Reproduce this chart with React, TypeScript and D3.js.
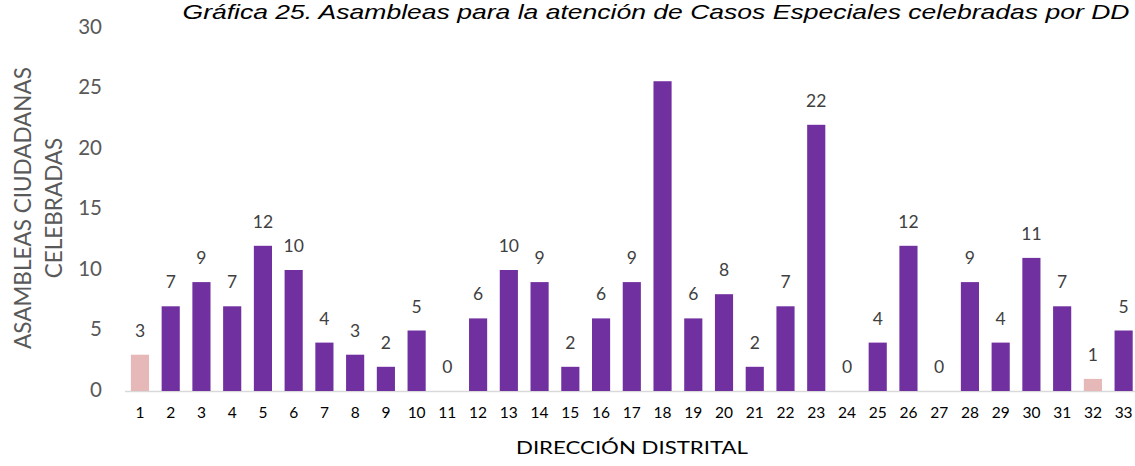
import React from "react";
import * as d3 from "d3";

const categories = ["1","2","3","4","5","6","7","8","9","10","11","12","13","14","15","16","17","18","19","20","21","22","23","24","25","26","27","28","29","30","31","32","33"];
const values = [3,7,9,7,12,10,4,3,2,5,0,6,10,9,2,6,9,25.6,6,8,2,7,22,0,4,12,0,9,4,11,7,1,5];
const labels: (string | null)[] = ["3","7","9","7","12","10","4","3","2","5","0","6","10","9","2","6","9",null,"6","8","2","7","22","0","4","12","0","9","4","11","7","1","5"];
const highlighted = ["1", "32"];
const yTicks = [0, 5, 10, 15, 20, 25, 30];

const W = 1135, H = 466;
const FONT = "Lato, 'Open Sans', sans-serif";

export default function App() {
  const x = d3.scaleBand<string>().domain(categories).range([124.6, 1139]).paddingInner(0.41).paddingOuter(0.205);
  const y = d3.scaleLinear().domain([0, 30]).range([391, 28]);
  return (
    <svg width={W} height={H} style={{ position: "absolute", left: 0, top: 0 }}>
      <text x={182.5} y={19} textLength={947} lengthAdjust="spacingAndGlyphs" fontFamily="'Liberation Sans', Arial, sans-serif" fontStyle="italic" fontSize={21} fill="#000">
        Gráfica 25. Asambleas para la atención de Casos Especiales celebradas por DD
      </text>
      {yTicks.map((t) => (
        <text key={t} x={102} y={y(t) + 5.8} textAnchor="end" fontFamily={FONT} fontSize={20.5} fill="#595959">{t}</text>
      ))}
      <line x1={125} x2={1135} y1={391.5} y2={391.5} stroke="#D9D9D9" strokeWidth={1.5} />
      {categories.map((c, i) => {
        const v = values[i];
        const bx = x(c)!;
        const top = y(v);
        return (
          <g key={c}>
            {v > 0 && (
              <rect x={bx} y={top} width={x.bandwidth()} height={y(0) - top} fill={highlighted.includes(c) ? "#E6B9B8" : "#7030A0"} />
            )}
            {labels[i] !== null && (
              <text x={bx + x.bandwidth() / 2} y={top - 18} textAnchor="middle" fontFamily={FONT} fontSize={17.5} fill="#404040">{labels[i]}</text>
            )}
            <text x={bx + x.bandwidth() / 2} y={418} textAnchor="middle" fontFamily={FONT} fontSize={15.5} fill="#000">{c}</text>
          </g>
        );
      })}
      <text x={516} y={454} textLength={232} lengthAdjust="spacingAndGlyphs" fontFamily={FONT} fontSize={18} fill="#000">DIRECCIÓN DISTRITAL</text>
      <g transform="translate(23,208) rotate(-90)">
        <text x={0} y={0} dy="0.35em" textAnchor="middle" fontFamily={FONT} fontSize={22.5} fill="#595959">ASAMBLEAS CIUDADANAS</text>
        <text x={0} y={31} dy="0.35em" textAnchor="middle" fontFamily={FONT} fontSize={22.5} fill="#595959">CELEBRADAS</text>
      </g>
    </svg>
  );
}
